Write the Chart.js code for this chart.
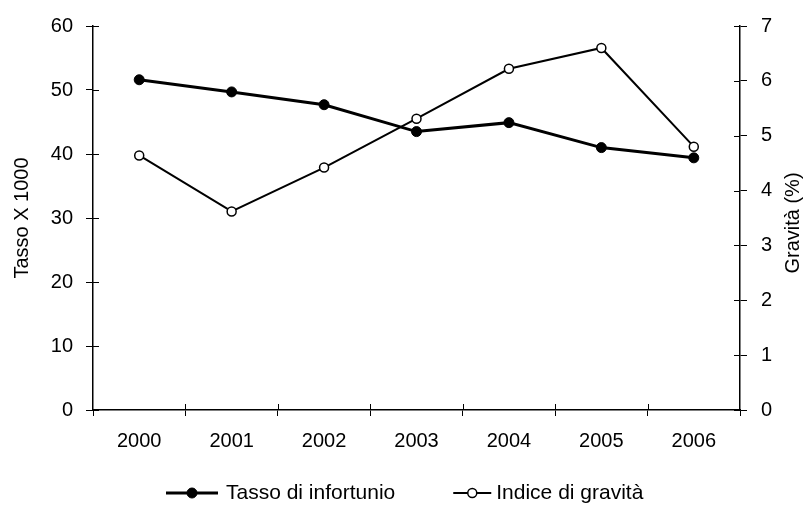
<!DOCTYPE html>
<html>
<head>
<meta charset="utf-8">
<script src="https://cdn.jsdelivr.net/npm/chart.js@4.4.0/dist/chart.umd.min.js"></script>
<style>
  html, body { margin: 0; padding: 0; background: #fff; }
  canvas { display: block; }
</style>
</head>
<body>
<canvas id="chart" width="807" height="509"></canvas>
<script>
// Data
const years = ['2000', '2001', '2002', '2003', '2004', '2005', '2006'];
const tassoInfortunio = [51.6, 49.7, 47.7, 43.5, 44.9, 41.0, 39.4]; // left axis, x 1000
const indiceGravita = [4.64, 3.62, 4.42, 5.31, 6.22, 6.6, 4.8];      // right axis, %
const leftAxis = { min: 0, max: 60, step: 10, title: 'Tasso X 1000' };
const rightAxis = { min: 0, max: 7, step: 1, title: 'Gravità (%)' };

const FONT = "'Liberation Sans', Arial, sans-serif";
Chart.defaults.font.family = FONT;
Chart.defaults.color = '#000';

// Small tick marks on the inner side of each axis (the original ticks cross the axis line)
const innerTicks = {
    id: 'innerTicks',
    afterDraw(chart) {
        const ctx = chart.ctx;
        const area = chart.chartArea;
        ctx.save();
        ctx.strokeStyle = '#000';
        ctx.lineWidth = 1;
        ctx.beginPath();
        ['y', 'y1'].forEach(id => {
            const s = chart.scales[id];
            s.ticks.forEach((t, i) => {
                const py = Math.round(s.getPixelForTick(i)) + 0.5;
                if (id === 'y') { ctx.moveTo(area.left, py); ctx.lineTo(area.left + 6, py); }
                else { ctx.moveTo(area.right, py); ctx.lineTo(area.right - 6, py); }
            });
        });
        const xs = chart.scales.x;
        const step = (area.right - area.left) / years.length;
        for (let i = 1; i < years.length; i++) {
            const px = Math.round(xs.getPixelForTick(i) - step / 2) + 0.5;
            ctx.moveTo(px, area.bottom);
            ctx.lineTo(px, area.bottom - 6);
        }
        ctx.stroke();
        ctx.restore();
    }
};

// Right axis title reads bottom-to-top in the original, so draw it by hand
const rightTitle = {
    id: 'rightTitle',
    afterDraw(chart) {
        const ctx = chart.ctx;
        const area = chart.chartArea;
        ctx.save();
        ctx.translate(793, (area.top + area.bottom) / 2 + 5);
        ctx.rotate(-Math.PI / 2);
        ctx.font = '20px ' + FONT;
        ctx.fillStyle = '#000';
        ctx.textAlign = 'center';
        ctx.textBaseline = 'middle';
        ctx.fillText(rightAxis.title, 0, 0);
        ctx.restore();
    }
};

// Legend with line + marker swatches, like the original
const lineLegend = {
    id: 'lineLegend',
    afterDraw(chart) {
        const ctx = chart.ctx;
        const y = 493;
        const items = chart.data.datasets.map((ds, i) => ({
            ds: ds,
            swatch: i === 0 ? 52 : 38,
            gap: i === 0 ? 8 : 5
        }));
        ctx.save();
        ctx.font = '21px ' + FONT;
        let x = 166;
        items.forEach((it, i) => {
            if (i > 0) x += 58;
            const ds = it.ds;
            ctx.strokeStyle = '#000';
            ctx.lineWidth = ds.borderWidth;
            ctx.beginPath();
            ctx.moveTo(x, y);
            ctx.lineTo(x + it.swatch, y);
            ctx.stroke();
            ctx.beginPath();
            ctx.arc(x + it.swatch / 2, y, ds.pointRadius, 0, Math.PI * 2);
            ctx.fillStyle = ds.pointBackgroundColor;
            ctx.fill();
            ctx.lineWidth = ds.pointBorderWidth;
            ctx.stroke();
            x += it.swatch + it.gap;
            ctx.fillStyle = '#000';
            ctx.textAlign = 'left';
            ctx.textBaseline = 'middle';
            ctx.fillText(ds.label, x, y);
            x += ctx.measureText(ds.label).width;
        });
        ctx.restore();
    }
};

const ctx = document.getElementById('chart').getContext('2d');
new Chart(ctx, {
    type: 'line',
    data: {
        labels: years,
        datasets: [
            {
                label: 'Tasso di infortunio',
                data: tassoInfortunio,
                yAxisID: 'y',
                borderColor: '#000',
                borderWidth: 3,
                pointRadius: 5,
                pointBackgroundColor: '#000',
                pointBorderColor: '#000',
                pointBorderWidth: 1,
                tension: 0
            },
            {
                label: 'Indice di gravità',
                data: indiceGravita,
                yAxisID: 'y1',
                borderColor: '#000',
                borderWidth: 2,
                pointRadius: 4.5,
                pointBackgroundColor: '#fff',
                pointBorderColor: '#000',
                pointBorderWidth: 1.5,
                tension: 0
            }
        ]
    },
    options: {
        responsive: false,
        animation: false,
        layout: { padding: { top: 25, bottom: 39, left: 0, right: 0 } },
        plugins: {
            legend: { display: false },
            tooltip: { enabled: false }
        },
        scales: {
            x: {
                type: 'category',
                offset: true,
                grid: { offset: true, drawOnChartArea: false, tickLength: 6, color: '#000', lineWidth: 1 },
                border: { color: '#000', width: 1.5 },
                ticks: { color: '#000', font: { size: 20 }, padding: 13, maxRotation: 0 },
                afterFit: scale => { scale.height = 60; }
            },
            y: {
                position: 'left',
                min: leftAxis.min,
                max: leftAxis.max,
                ticks: { stepSize: leftAxis.step, color: '#000', font: { size: 20 }, padding: 13 },
                grid: { drawOnChartArea: false, tickLength: 7, color: '#000', lineWidth: 1 },
                border: { color: '#000', width: 1.5 },
                title: { display: true, text: leftAxis.title, color: '#000', font: { size: 20 }, padding: { top: 10, bottom: 0 } },
                afterFit: scale => { scale.width = 93; }
            },
            y1: {
                position: 'right',
                min: rightAxis.min,
                max: rightAxis.max,
                ticks: { stepSize: rightAxis.step, color: '#000', font: { size: 20 }, padding: 14 },
                grid: { drawOnChartArea: false, tickLength: 7, color: '#000', lineWidth: 1 },
                border: { color: '#000', width: 1.5 },
                afterFit: scale => { scale.width = 67; }
            }
        }
    },
    plugins: [innerTicks, rightTitle, lineLegend]
});
</script>
</body>
</html>
